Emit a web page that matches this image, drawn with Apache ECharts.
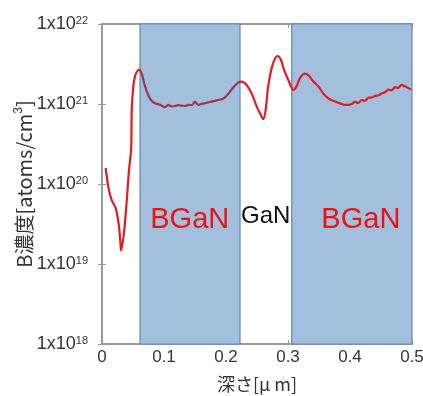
<!DOCTYPE html>
<html>
<head>
<meta charset="utf-8">
<script src="https://cdn.jsdelivr.net/npm/echarts@6/dist/echarts.min.js"></script>
<style>
  html, body { margin: 0; padding: 0; background: #fff; }
  #chart { width: 423px; height: 396px; }
</style>
</head>
<body>
<div id="chart"></div>
<script>
// depth in µm
const depth = [
  0.006, 0.010, 0.0156, 0.022, 0.0274, 0.0306, 0.031, 0.036, 0.040, 0.0435,
  0.047, 0.048, 0.0505, 0.053, 0.056, 0.0597, 0.064, 0.0694, 0.0747, 0.080,
  0.0855, 0.0935, 0.1016, 0.107, 0.112, 0.118, 0.123, 0.1285, 0.134, 0.139,
  0.145, 0.150, 0.155, 0.160, 0.166, 0.171, 0.177, 0.182, 0.1876, 0.193,
  0.198, 0.204, 0.212, 0.220, 0.225, 0.233, 0.2415, 0.2495,
  0.2576, 0.260, 0.264, 0.268, 0.2737, 0.279, 0.2834, 0.2887, 0.294, 0.3005,
  0.3086, 0.314, 0.319, 0.327, 0.333, 0.341, 0.349, 0.357, 0.365, 0.370,
  0.376, 0.381, 0.387, 0.392, 0.397, 0.403, 0.408, 0.413, 0.419, 0.424,
  0.430, 0.435, 0.440, 0.446, 0.451, 0.457, 0.462, 0.467, 0.4726, 0.478,
  0.483, 0.4915, 0.4985
];
// log10 of B concentration [atoms/cm3]
const logConc = [
  20.20, 19.97, 19.80, 19.70, 19.47, 19.18, 19.17, 19.43, 19.80, 20.17,
  20.43, 20.93, 21.22, 21.34, 21.40, 21.43, 21.38, 21.22, 21.11, 21.04,
  21.01, 20.99, 20.96, 20.99, 20.97, 20.975, 20.985, 20.98, 20.975, 20.99,
  20.985, 21.03, 20.99, 21.0, 21.01, 21.02, 21.03, 21.04, 21.05, 21.06,
  21.08, 21.13, 21.21, 21.27, 21.28, 21.24, 21.13, 20.97,
  20.84, 20.81, 20.93, 21.22, 21.45, 21.57, 21.60, 21.55, 21.42, 21.30,
  21.175, 21.225, 21.32, 21.38, 21.36, 21.28, 21.22, 21.13, 21.07, 21.05,
  21.03, 21.015, 21.0, 20.99, 20.99, 21.0, 21.03, 21.01, 21.05, 21.04,
  21.08, 21.08, 21.10, 21.11, 21.13, 21.15, 21.18, 21.17, 21.21, 21.20,
  21.24, 21.21, 21.18
];
// layer regions
const layers = [
  { name: "BGaN", from: 0.0613, to: 0.2226, labelX: 0.1415, color: "#ee1111" },
  { name: "GaN", from: 0.2226, to: 0.306, labelX: 0.264, color: "#111111" },
  { name: "BGaN", from: 0.306, to: 0.5, labelX: 0.4175, color: "#ee1111" }
];
const labelY = 3.5e19;

const xTicks = ["0", "0.1", "0.2", "0.3", "0.4", "0.5"];

const chart = echarts.init(document.getElementById("chart"));
const frame = { show: true, lineStyle: { color: "#9a9a9a", width: 2 } };
const ticks = { show: true, inside: true, length: 4, lineStyle: { color: "#9a9a9a", width: 1 } };

chart.setOption({
  animation: false,
  backgroundColor: "#fff",
  grid: { left: 102, right: 11, top: 24, bottom: 52, containLabel: false, outerBoundsMode: "none" },
  xAxis: [{
    type: "value", min: 0, max: 0.5, interval: 0.1,
    axisLine: frame, axisTick: ticks, splitLine: { show: false },
    axisLabel: {
      color: "#333", fontSize: 17, fontFamily: "Liberation Sans, Arial", margin: 5,
      formatter: (v) => xTicks[Math.round(v * 10)]
    },
    name: "深さ[μ m]", nameLocation: "middle", nameGap: 31,
    nameTextStyle: { color: "#333", fontSize: 18, fontFamily: "Noto Sans CJK JP" }
  }, {
    type: "value", min: 0, max: 0.5, interval: 0.1, position: "top",
    axisLine: frame, axisTick: ticks, axisLabel: { show: false }, splitLine: { show: false }
  }],
  yAxis: [{
    type: "log", min: 1e18, max: 1e22, logBase: 10,
    axisLine: frame, axisTick: ticks, splitLine: { show: false },
    minorTick: { show: false },
    axisLabel: {
      margin: 14,
      formatter: (v) => "{b|1x10}{s|" + Math.round(Math.log10(v)) + "}",
      rich: {
        b: { color: "#333", fontSize: 18, fontFamily: "Liberation Sans, Arial" },
        s: { color: "#333", fontSize: 11, fontFamily: "Liberation Sans, Arial", verticalAlign: "top", padding: [0, 0, 6, 0] }
      }
    },
    name: "{n|B濃度[atoms/cm}{s|3}{n|]}", nameLocation: "middle", nameGap: 67,
    nameMoveOverlap: false,
    nameTextStyle: {
      rich: {
        n: { color: "#333", fontSize: 20, fontFamily: "Noto Sans CJK JP" },
        s: { color: "#333", fontSize: 12, fontFamily: "Liberation Sans, Arial", verticalAlign: "top", padding: [0, 0, 10, 0] }
      }
    }
  }, {
    type: "log", min: 1e18, max: 1e22, logBase: 10, position: "right",
    axisLine: frame, axisTick: ticks, axisLabel: { show: false }, splitLine: { show: false }
  }],
  visualMap: {
    show: false, type: "piecewise", dimension: 0, seriesIndex: 0,
    pieces: [
      { lt: layers[0].from, color: "#e41a1c" },
      { gte: layers[0].from, lt: layers[0].to, color: "#a03252" },
      { gte: layers[0].to, color: "#e41a1c" }
    ]
  },
  series: [{
    type: "line",
    data: depth.map((d, i) => [d, Math.pow(10, logConc[i])]),
    showSymbol: false,
    smooth: 0.25,
    z: 3,
    lineStyle: { width: 2.2 },
    markArea: {
      silent: true,
      z: 1,
      itemStyle: { color: "#a2c0de", borderColor: "#6488b0", borderWidth: 1.2 },
      data: layers.filter((l) => l.name === "BGaN").map((l) => [{ xAxis: l.from, yAxis: 1e18 }, { xAxis: l.to, yAxis: 1e22 }])
    },
    markPoint: {
      silent: true,
      symbol: "circle", symbolSize: 0,
      data: layers.map((l) => ({
        coord: [l.labelX, labelY],
        label: {
          show: true, position: "inside", formatter: l.name,
          color: l.color, fontSize: l.name === "GaN" ? 24 : 29,
          fontFamily: "Liberation Sans, Arial",
          offset: [0, l.name === "GaN" ? -4 : 0]
        }
      }))
    }
  }]
});
</script>
</body>
</html>
